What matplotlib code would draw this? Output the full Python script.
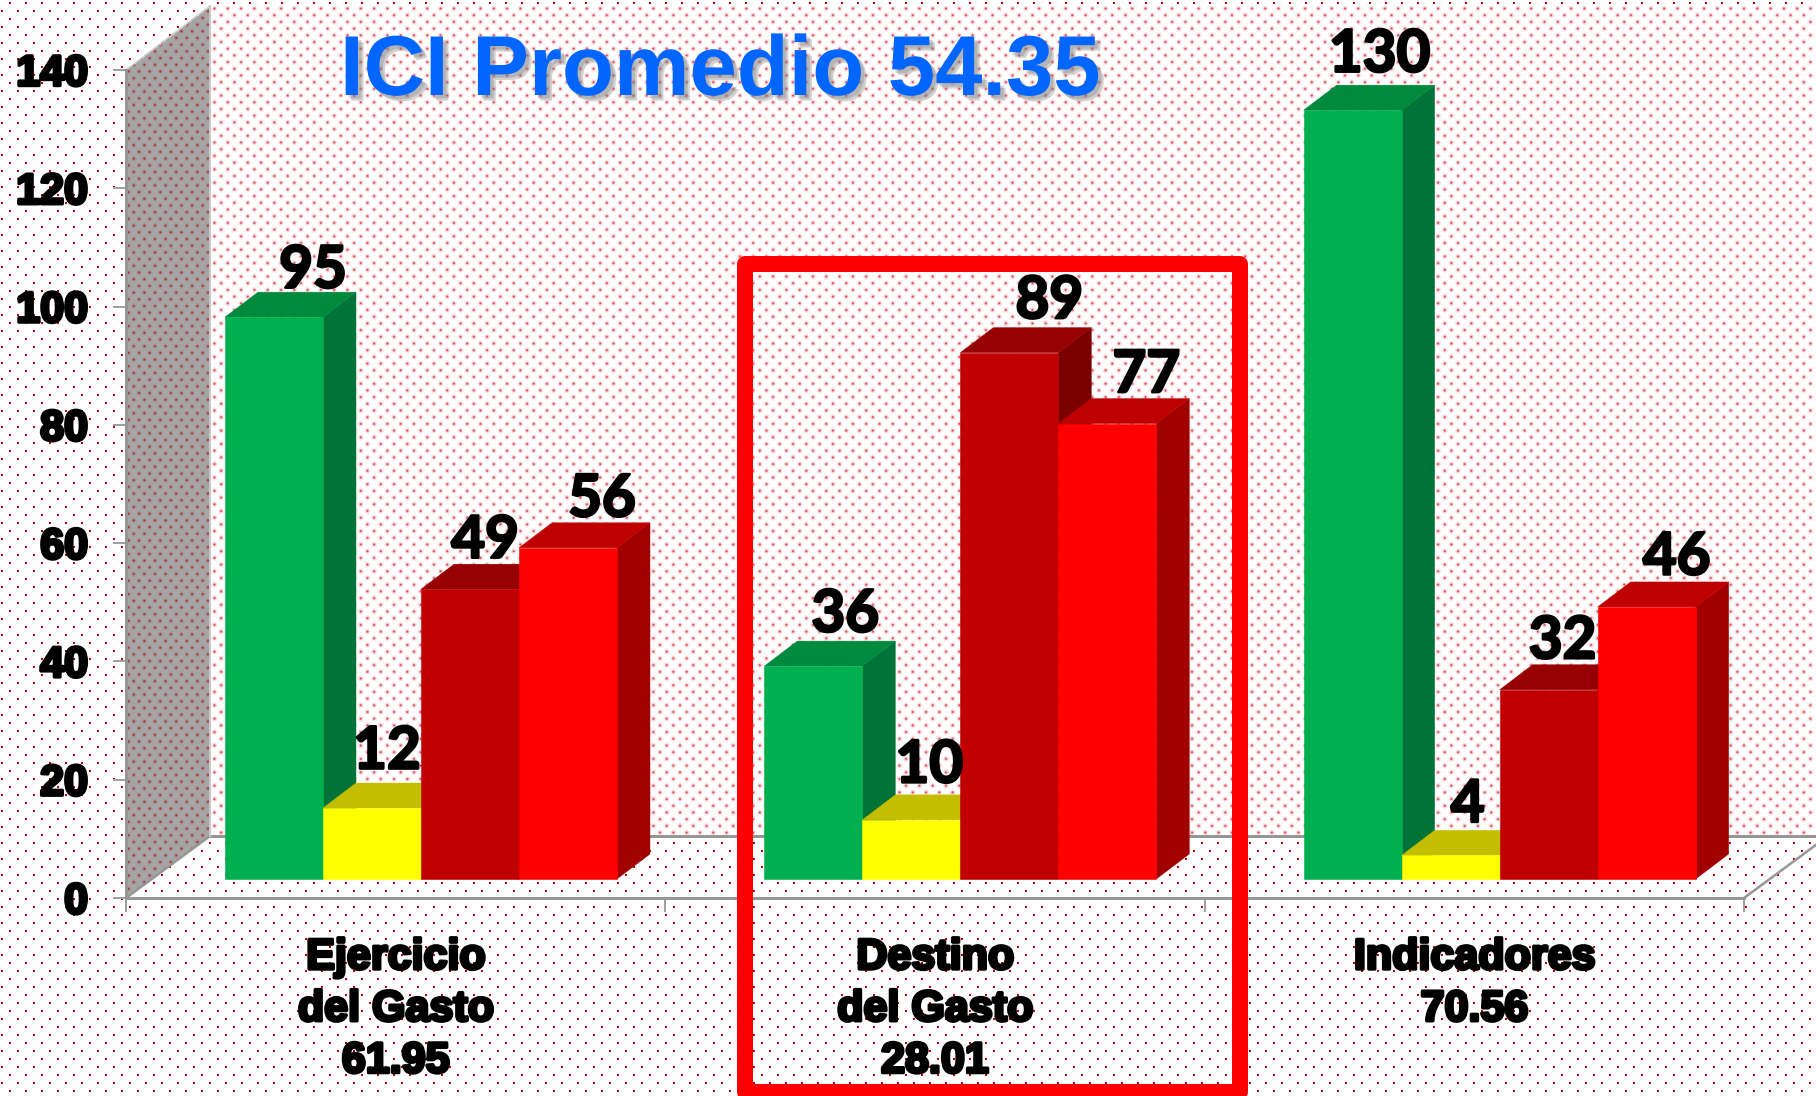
import numpy as np
import matplotlib
matplotlib.use("Agg")
import matplotlib.pyplot as plt
import matplotlib.patheffects as pe
from matplotlib.patches import Polygon, Rectangle
from matplotlib.transforms import Affine2D

# ---- data ----
categories = ["Ejercicio\ndel Gasto\n61.95", "Destino\ndel Gasto\n28.01", "Indicadores\n70.56"]
green = [95, 36, 130]
yellow = [12, 10, 4]
dark_red = [49, 89, 32]
red = [56, 77, 46]
y_ticks = [0, 20, 40, 60, 80, 100, 120, 140]
title = "ICI Promedio 54.35"

# ---- styles ----
W, H = 1816, 1096
series = [green, yellow, dark_red, red]
face = ["#00B050", "#FFFF00", "#C00000", "#FF0000"]
top = ["#008A3E", "#C4BE00", "#960000", "#BF0000"]
side = ["#007338", "#A8A400", "#7A0000", "#A00000"]
# label offsets from bar centre / value height, in pixels
lab_dx = [[39, 15, 15, 34], [32, 18, 40, 39], [27, 17, 14, 30]]
lab_dy = [[46, 56, 48, 48], [51, 54, 51, 48], [55, 50, 48, 49]]

fig = plt.figure(figsize=(W / 100, H / 100), dpi=100, facecolor="white")

# ---- dotted backdrop ----
img = np.ones((H, W, 3))
dot = np.array([192, 0, 0]) / 255

def stamp(arr, cx, cy, col, strength, sigma, mask=None):
    xi, yi = int(round(cx)), int(round(cy))
    for yy in range(max(yi - 3, 0), min(yi + 4, H)):
        for xx in range(max(xi - 3, 0), min(xi + 4, W)):
            if mask is not None and not mask[yy, xx]:
                continue
            a = strength * np.exp(-((xx - cx) ** 2 + (yy - cy) ** 2) / (2 * sigma ** 2))
            arr[yy, xx] = arr[yy, xx] * (1 - a) + col * a

for r, yy in enumerate(range(2, H, 8)):
    for xx in range(9 if r % 2 == 0 else 1, W, 16):
        img[yy:yy + 2, xx:xx + 2] = dot

X, Y = np.meshgrid(np.arange(W), np.arange(H))
back = (X >= 210) & (Y >= 6) & (Y <= 836)
img[back] = 1.0
wallcol = np.array([208, 32, 48]) / 255
for r, yy in enumerate(np.arange(8, 836, 6.7)):
    for xx in np.arange(214 + (6.65 if r % 2 else 0), W, 13.3):
        stamp(img, xx, yy, wallcol, 0.25, 1.6, back)
        stamp(img, xx, yy, wallcol, 0.8, 0.8, back)

# grey side wall
t = np.clip((X - 126) / 84, 0, 1)
sidewall = (X >= 126) & (X < 210) & (Y >= 70 - 64 * t) & (Y <= 898 - 62 * t)
img[sidewall] = np.array([166, 166, 166]) / 255
for r, y0 in enumerate(np.arange(4, 900, 6.7)):
    for xx in np.arange(128 + (5.3 if r % 2 else 0), 210, 10.6):
        stamp(img, xx, y0, np.array([165, 30, 40]) / 255, 0.25, 1.5, sidewall)
        stamp(img, xx, y0, np.array([165, 20, 30]) / 255, 0.85, 0.75, sidewall)

fig.figimage(np.clip(img, 0, 1), xo=0, yo=0, origin="upper", zorder=-1, resize=False)

# ---- axes: x=0..3 categories, y=0..140 on the front plane ----
ax = fig.add_axes([126 / W, 1 - 898 / H, (1744 - 126) / W, (898 - 70) / H], zorder=2)
ax.patch.set_visible(False)
ax.set_xlim(0, 3)
ax.set_ylim(0, 140)
grey = "#969696"
for s in ("top", "right"):
    ax.spines[s].set_visible(False)
for s in ("left", "bottom"):
    ax.spines[s].set_color(grey)
    ax.spines[s].set_linewidth(2.2)

px = lambda p: p * 0.72
label_font = dict(family="Liberation Sans", weight="bold", color="black",
                  path_effects=[pe.withStroke(linewidth=px(3.4), foreground="black")])
ax.set_yticks(y_ticks)
ax.set_yticklabels([str(v) for v in y_ticks], fontsize=31, **label_font)
ax.tick_params(axis="y", length=px(13), width=px(2), color="#A0A0A0", pad=px(25))
ax.set_xticks([0, 1, 2, 3])
ax.set_xticklabels([])
ax.tick_params(axis="x", length=px(14), width=px(2), color="#A0A0A0")
ax.set_xticks([0.5, 1.5, 2.5], minor=True)
ax.set_xticklabels(categories, minor=True, fontsize=31, linespacing=1.38, **label_font)
ax.tick_params(axis="x", which="minor", length=0, pad=px(40))

# pixel-space helper (origin top-left, y down)
pix = Affine2D().scale(1, -1).translate(0, H)

# wall/floor guide lines
ax.plot([210, W], [836, 836], color=grey, lw=px(3), transform=pix, clip_on=False, zorder=1)
ax.plot([126, 210], [898, 836], color=grey, lw=px(2.5), transform=pix, clip_on=False, zorder=1)
ax.plot([1744, 1828], [898, 836], color=grey, lw=px(2.5), transform=pix, clip_on=False, zorder=1)
ax.plot([210, 210], [6, 836], color="#C8C8C8", lw=px(2), transform=pix, clip_on=False, zorder=1)
ax.plot([126, 210], [70, 6], color="#C8C8C8", lw=px(1.5), transform=pix, clip_on=False, zorder=1)

# ---- 3-D bars ----
unit_px = (1744 - 126) / 3
bw = 98 / unit_px
start = 73.3 / unit_px
shift = ax.transData + Affine2D().translate(25.7, 19)   # bars sit inside the floor depth
DX, DY = 33, 25

for c in range(3):
    for k, vals in enumerate(series):
        v = vals[c]
        x0 = c + start + k * bw
        x1 = x0 + bw
        p = lambda x, y: shift.transform((x, y))
        a, b = p(x0, v), p(x1, v)
        b0 = p(x1, 0)
        ax.add_patch(Polygon([b0, b, b + (DX, DY), b0 + (DX, DY)], closed=True,
                             transform=Affine2D(), fc=side[k], ec=side[k], lw=0.3, clip_on=False,
                             zorder=3 + c + k * 0.1))
        ax.add_patch(Polygon([a, b, b + (DX, DY), a + (DX, DY)], closed=True,
                             transform=Affine2D(), fc=top[k], ec=top[k], lw=0.3, clip_on=False,
                             zorder=3 + c + k * 0.1))
        ax.bar(x0, v, width=bw, align="edge", color=face[k], edgecolor=face[k], linewidth=0.4,
               transform=shift, clip_on=False, zorder=3.05 + c + k * 0.1)
        ax.annotate(str(v), xy=(x0 + bw / 2, v), xycoords=shift,
                    xytext=(px(lab_dx[c][k]), px(lab_dy[c][k])), textcoords="offset points",
                    ha="center", va="center", family="Lato", weight="bold",
                    fontsize=42, color="black", zorder=20, annotation_clip=False,
                    path_effects=[pe.withStroke(linewidth=px(2.6), foreground="black")])

# highlight frame
ax.add_patch(Rectangle((745, 264), 495, 828, transform=pix, fc="none", ec="#FF0000",
                       lw=px(16), joinstyle="round", clip_on=False, zorder=15))

# title with soft shadow
ax.text(340, 95, title, transform=pix, family="Liberation Sans", weight="bold",
        fontsize=61.2, color="#0066FF", ha="left", va="baseline", zorder=25,
        path_effects=[pe.SimplePatchShadow(offset=(4, -4), shadow_rgbFace="#808080", alpha=0.35),
                      pe.SimplePatchShadow(offset=(2.5, -2.5), shadow_rgbFace="#808080", alpha=0.35),
                      pe.Normal()])

fig.savefig("out.png", dpi=100)
